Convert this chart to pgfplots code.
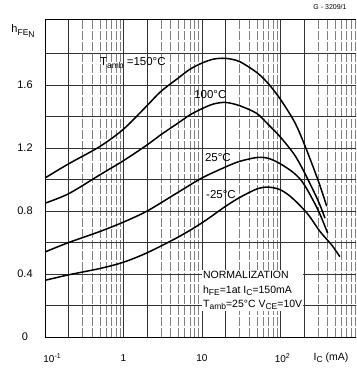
\documentclass[border=0pt]{standalone}
\usepackage{fontspec}
\setmainfont{Liberation Sans}
\usepackage{pgfplots}
\pgfplotsset{compat=1.18}
\usetikzlibrary{calc}
\newcommand{\sub}[1]{\raisebox{-0.4ex}{\fontsize{8.5}{9}\selectfont #1}}
\begin{document}
\begin{tikzpicture}
\begin{axis}[
  scale only axis, width=311pt, height=318pt,
  xmode=log, log basis x=10,
  xmin=0.1, xmax=920, ymin=0, ymax=2.02,
  xtick={0.1,1,10,100},
  xticklabels={\hspace*{8pt}10\rlap{\textsuperscript{-1}},1,10,10\rlap{\textsuperscript{2}}},
  minor xtick={0.3,0.4,0.5,0.6,0.7,0.8,0.9,3,4,5,6,7,8,9,30,40,50,60,70,80,90,300,400,500,600,700,800,900},
  extra x ticks={0.2,2,20,200},
  extra x tick labels={},
  ytick={0,0.2,0.4,0.6,0.8,1.0,1.2,1.4,1.6,1.8},
  yticklabels={0,,0.4,,0.8,,1.2,,1.6,},
  grid=both,
  major grid style={black!80, line width=0.5pt},
  minor grid style={black!50, line width=0.4pt, dash pattern=on 9pt off 2pt},
  major tick length=0pt, minor tick length=0pt,
  yticklabel style={anchor=center, xshift=-20pt, font=\fontsize{11}{13}\selectfont},
  xticklabel style={anchor=center, yshift=-21pt, font=\fontsize{10}{12}\selectfont},
  /pgf/number format/assume math mode=true,
  axis lines=left, axis line style={-, line width=0.8pt},
]
\addplot[black, line width=1.5pt, smooth] coordinates {
 (0.1,1.01) (0.2,1.10) (0.5,1.21) (1,1.32) (2,1.47) (3,1.56) (5,1.645) (7,1.70) (10,1.74) (14,1.765) (20,1.77) (30,1.75) (50,1.68) (70,1.61) (100,1.51) (150,1.37) (200,1.23) (300,1.00) (390,0.83)};
\addplot[black, line width=1.5pt, smooth] coordinates {
 (0.1,0.85) (0.2,0.91) (0.5,1.03) (1,1.12) (2,1.22) (3,1.285) (5,1.36) (7,1.41) (10,1.45) (14,1.48) (20,1.49) (30,1.47) (50,1.42) (70,1.35) (100,1.27) (150,1.16) (200,1.05) (300,0.87) (370,0.755)};
\addplot[black, line width=1.5pt, smooth] coordinates {
 (0.1,0.54) (0.2,0.60) (0.5,0.67) (1,0.73) (2,0.80) (5,0.92) (10,1.01) (20,1.08) (30,1.115) (50,1.14) (70,1.135) (100,1.10) (150,1.04) (200,0.97) (300,0.81) (400,0.66)};
\addplot[black, line width=1.5pt, smooth] coordinates {
 (0.1,0.36) (0.2,0.395) (0.5,0.435) (1,0.475) (2,0.535) (5,0.635) (10,0.725) (20,0.83) (30,0.885) (50,0.94) (70,0.952) (100,0.935) (140,0.885) (220,0.785) (320,0.67) (450,0.585) (573,0.51)};
\node[anchor=west, font=\fontsize{11.5}{13}\selectfont, inner sep=0pt] at (axis cs:0.5,1.74) {T\sub{amb} =150°C};
\node[font=\fontsize{11.5}{13}\selectfont, inner sep=0pt] at (axis cs:12.8,1.54) {100°C};
\node[font=\fontsize{11.5}{13}\selectfont, inner sep=0pt] at (axis cs:16,1.14) {25°C};
\node[font=\fontsize{11.5}{13}\selectfont, inner sep=0pt] at (axis cs:17.5,0.905) {-25°C};
\node[anchor=north west, align=left, fill=white, inner sep=1pt, font=\fontsize{10.5}{14.5}\selectfont] at (axis cs:10,0.425) {NORMALIZATION\\h\sub{FE}=1at I\sub{C}=150mA\\T\sub{amb}=25°C V\sub{CE}=10V};
\coordinate (NW) at (rel axis cs:0,1);
\coordinate (NE) at (rel axis cs:1,1);
\coordinate (SW) at (rel axis cs:0,0);
\coordinate (SE) at (rel axis cs:1,0);
\end{axis}
\draw[line width=0.8pt] (NW) -- (NE);
\node[font=\fontsize{11}{13}\selectfont] at ($(NW)+(-22pt,-12pt)$) {h\raisebox{-0.4ex}{\fontsize{8.5}{9}\selectfont FE\raisebox{-0.4ex}{N}}};
\node[font=\fontsize{10.5}{12}\selectfont] at ($(SE)+(-25pt,-21pt)$) {I\sub{C} (mA)};
\node[font=\fontsize{7}{8}\selectfont] at ($(NE)+(-26pt,12pt)$) {G - 3209/1};
\pgfresetboundingbox
\path ($(SW)+(-45pt,-34pt)$) rectangle ($(NE)+(0pt,19pt)$);
\end{tikzpicture}
\end{document}
